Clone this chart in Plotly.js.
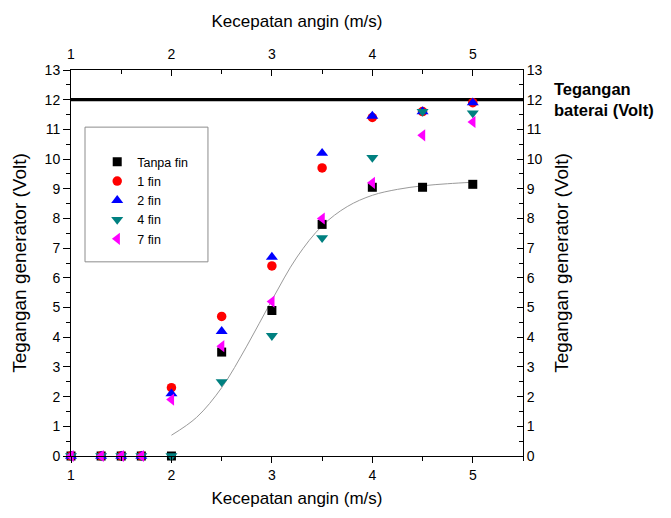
<!DOCTYPE html>
<html>
<head>
<meta charset="utf-8">
<script src="https://cdn.plot.ly/plotly-3.0.1.min.js"></script>
<style>
  html, body { margin: 0; padding: 0; background: #fff; }
  #chart { width: 671px; height: 518px; }
</style>
</head>
<body>
<div id="chart"></div>
<script>
// Wind speed (m/s) at which the generator voltage was measured
const windSpeed = [1, 1.3, 1.5, 1.7, 2, 2.5, 3, 3.5, 4, 4.5, 5];

// Generator voltage (Volt) for each fin configuration
const tanpaFin = [0, 0, 0, 0, 0, 3.5, 4.9, 7.8, 9.05, 9.05, 9.15];
const fin1     = [0, 0, 0, 0, 2.3, 4.7, 6.4, 9.7, 11.4, 11.6, 11.9];
const fin2     = [0, 0, 0, 0, 2.1, 4.2, 6.7, 10.2, 11.45, 11.6, 11.9];
const fin4     = [0, 0, 0, 0, 0, 2.5, 4.05, 7.35, 10.05, 11.6, 11.55];
const fin7     = [0, 0, 0, 0, 1.9, 3.7, 5.2, 8.0, 9.2, 10.8, 11.25];

// Sigmoid fit through the "Tanpa fin" series
const fitSpeed   = [2, 2.25, 2.5, 2.75, 3, 3.25, 3.5, 3.75, 4, 4.25, 4.5, 4.75, 5];
const fitVoltage = [0.7, 1.3, 2.3, 3.7, 5.25, 6.7, 7.75, 8.4, 8.78, 8.98, 9.1, 9.17, 9.22];

// Battery voltage reference line
const batteryVoltage = 12;
const speedRange = [1, 5.5];
const voltRange = [0, 13];

const FONT = '"Liberation Sans", Arial, sans-serif';

function series(name, y, symbol, color, size) {
  return {
    type: 'scatter', mode: 'markers', name: name,
    x: windSpeed, y: y, cliponaxis: false,
    marker: { symbol: symbol, color: color, size: size, line: { width: 0 } }
  };
}

const traces = [
  {
    type: 'scatter', mode: 'lines', x: fitSpeed, y: fitVoltage,
    line: { color: '#9a9a9a', width: 1, shape: 'spline' },
    showlegend: false, hoverinfo: 'skip'
  },
  {
    type: 'scatter', mode: 'lines', x: speedRange, y: [batteryVoltage, batteryVoltage],
    line: { color: '#000', width: 3.2 }, cliponaxis: false,
    showlegend: false, hoverinfo: 'skip'
  },
  series('Tanpa fin', tanpaFin, 'square', '#000000', 9),
  series('1 fin', fin1, 'circle', '#ff0000', 9.5),
  series('2 fin', fin2, 'triangle-up', '#0000ff', 10.5),
  series('4 fin', fin4, 'triangle-down', '#008080', 10.5),
  series('7 fin', fin7, 'triangle-left', '#ff00ff', 10.5),
  { type: 'scatter', mode: 'markers', x: [], y: [], xaxis: 'x2', yaxis: 'y2',
    showlegend: false, hoverinfo: 'skip' }
];

const axisCommon = {
  showline: true, linecolor: '#000', linewidth: 1,
  showgrid: false, zeroline: false,
  tickcolor: '#000', tickwidth: 1,
  tickfont: { family: FONT, size: 14, color: '#000' }
};

const layout = {
  width: 671, height: 518,
  margin: { l: 71, r: 148, t: 70, b: 62 },
  paper_bgcolor: '#fff', plot_bgcolor: '#fff',
  font: { family: FONT, color: '#000' },
  showlegend: true,
  legend: {
    x: 0.058, y: 0.80, xanchor: 'left', yanchor: 'top',
    bgcolor: 'rgba(0,0,0,0)', borderwidth: 0,
    font: { family: FONT, size: 12.5, color: '#000' }
  },
  xaxis: Object.assign({}, axisCommon, {
    range: speedRange, tick0: 1, dtick: 1,
    ticks: 'outside', ticklen: 6,
    minor: { tick0: 1, dtick: 0.5, ticks: 'outside', ticklen: 4, tickcolor: '#000' },
    title: { text: 'Kecepatan angin (m/s)', font: { family: FONT, size: 17 }, standoff: 10 }
  }),
  yaxis: Object.assign({}, axisCommon, {
    range: voltRange, tick0: 0, dtick: 1,
    ticks: 'outside', ticklen: 7,
    minor: { tick0: 0, dtick: 0.5, ticks: 'outside', ticklen: 4, tickcolor: '#000' },
    title: { text: 'Tegangan generator (Volt)', font: { family: FONT, size: 19 }, standoff: 12 }
  }),
  xaxis2: Object.assign({}, axisCommon, {
    overlaying: 'x', side: 'top', anchor: 'y',
    range: speedRange, tick0: 1, dtick: 1,
    ticks: 'inside', ticklen: 6, ticklabelstandoff: 4,
    minor: { tick0: 1, dtick: 0.5, ticks: 'inside', ticklen: 4, tickcolor: '#000' },
    title: { text: 'Kecepatan angin (m/s)', font: { family: FONT, size: 17 }, standoff: 14 }
  }),
  yaxis2: Object.assign({}, axisCommon, {
    overlaying: 'y', side: 'right', anchor: 'x',
    range: voltRange, tick0: 0, dtick: 1,
    ticks: 'inside', ticklen: 6,
    minor: { tick0: 0, dtick: 0.5, ticks: 'inside', ticklen: 4, tickcolor: '#000' },
    title: { text: 'Tegangan generator (Volt)', font: { family: FONT, size: 19 }, standoff: 13 }
  }),
  shapes: [
    // legend frame
    { type: 'rect', xref: 'paper', yref: 'paper',
      x0: 0.031, x1: 0.303, y0: 0.503, y1: 0.852,
      line: { color: '#8c8c8c', width: 1 }, fillcolor: '#fff', layer: 'below' }
  ],
  annotations: [
    { xref: 'paper', yref: 'y', x: 1.065, y: batteryVoltage,
      xanchor: 'left', yanchor: 'middle', align: 'left', showarrow: false,
      text: '<b>Tegangan<br>baterai (Volt)</b>',
      font: { family: FONT, size: 16.5, color: '#000' } }
  ]
};

Plotly.newPlot('chart', traces, layout, { displayModeBar: false, staticPlot: true });
</script>
</body>
</html>
